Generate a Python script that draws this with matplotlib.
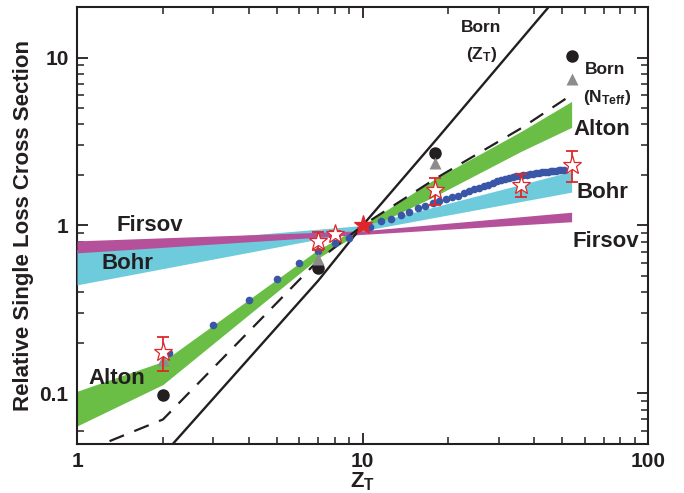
import numpy as np
import matplotlib.pyplot as plt

plt.rcParams['font.family'] = ['Liberation Sans', 'DejaVu Sans']
plt.rcParams['font.weight'] = 'bold'
plt.rcParams['mathtext.fontset'] = 'custom'
plt.rcParams['mathtext.rm'] = 'Liberation Sans:bold'
plt.rcParams['mathtext.bf'] = 'Liberation Sans:bold'
plt.rcParams['mathtext.default'] = 'bf'

# target Z_T
zt = [2, 7, 10, 18, 36, 54]

# Born (Z_T) solid line
born_z = [2, 7, 10, 18, 54]
born_y = [0.043, 0.47, 1.0, 3.2, 29.0]

# Born (N_Teff) dashed line
nteff_z = [1.3, 2, 7, 10, 18, 36, 54]
nteff_y = [0.052, 0.070, 0.62, 1.0, 1.9, 3.8, 6.0]

# Alton band
alton_z = [1, 2, 7, 10, 18, 36, 54]
alton_hi = [0.103, 0.155, 0.72, 1.0, 1.9, 3.64, 5.48]
alton_lo = [0.064, 0.113, 0.64, 0.93, 1.5, 2.77, 3.84]

# Bohr band
bohr_z = [1, 10, 54]
bohr_hi = [0.72, 1.0, 2.1]
bohr_lo = [0.443, 0.93, 1.58]

# Firsov band
firsov_z = [1, 10, 54]
firsov_hi = [0.81, 0.93, 1.2]
firsov_lo = [0.687, 0.885, 1.053]

# blue model points
dots_z = [2.1, 3, 4, 5, 6, 7, 8, 9,
          10.6, 11.6, 12.6, 13.6, 14.6, 15.6, 16.6, 17.6, 18.6, 19.6,
          20.6, 21.6, 22.6, 23.6, 24.6, 25.6, 26.6, 27.6, 28.6, 29.6,
          30.6, 31.6, 32.6, 33.6, 34.6, 35.6, 36.6, 37.6, 38.6, 39.6,
          40.6, 41.6, 42.6, 43.6, 44.6, 45.6, 46.6, 47.6, 48.6, 49.6, 50.6]
dots_y = [0.173, 0.254, 0.361, 0.481, 0.597, 0.703, 0.79, 0.847,
          0.98, 1.06, 1.10, 1.15, 1.21, 1.27, 1.31, 1.36, 1.39, 1.43,
          1.47, 1.50, 1.56, 1.60, 1.64, 1.67, 1.71, 1.75, 1.80, 1.83,
          1.86, 1.88, 1.91, 1.94, 1.96, 1.97, 1.99, 2.00, 2.02, 2.03,
          2.05, 2.06, 2.07, 2.08, 2.09, 2.10, 2.11, 2.12, 2.13, 2.14, 2.15]

# experiment (stars)
exp_z = [2, 7, 8, 10, 18, 36, 54]
exp_y = [0.177, 0.81, 0.89, 1.0, 1.63, 1.74, 2.29]
exp_up = [0.218, 0.91, 0.93, 1.03, 1.905, 2.02, 2.76]
exp_dn = [0.136, 0.71, 0.85, 0.97, 1.32, 1.47, 1.82]

# Born points
born_pts_z = [2, 7, 18, 54]
born_circ = [0.098, 0.557, 2.69, 10.27]
born_tri = [0.158, 0.633, 2.35, 7.42]

txt = '#231f20'
fig = plt.figure(figsize=(6.84, 4.93), dpi=100)
ax = fig.add_axes([0.1126, 0.0994, 0.8348, 0.8864])
ax.set_xscale('log')
ax.set_yscale('log')

ax.fill_between(alton_z, alton_lo, alton_hi, color='#6abd45', lw=0, zorder=2)
ax.fill_between(bohr_z, bohr_lo, bohr_hi, color='#6dcbdc', lw=0, zorder=3)
ax.fill_between(firsov_z, firsov_lo, firsov_hi, color='#b5519b', lw=0, zorder=4)

ax.plot(born_z, born_y, color=txt, lw=1.7, zorder=5)
ax.plot(nteff_z, nteff_y, color=txt, lw=1.6, ls=(0, (7, 5)), zorder=5)

ax.plot(dots_z, dots_y, 'o', color='#3a57a7', ms=5.5, mec='none', zorder=6)

ax.plot(born_pts_z, born_circ, 'o', color=txt, ms=8, zorder=7)
ax.plot(born_pts_z, born_tri, '^', color='#8c8c8c', ms=8, mec='none', zorder=7)

ey = np.array(exp_y)
yerr = [ey - np.array(exp_dn), np.array(exp_up) - ey]
ax.errorbar(exp_z, exp_y, yerr=yerr, fmt='none', ecolor='#e0262a',
            elinewidth=1.3, capsize=4, capthick=1.3, zorder=8)
faces = ['white'] * len(exp_z)
faces[3] = '#e0262a'
for z, y, f in zip(exp_z, exp_y, faces):
    ax.plot([z], [y], '*', ms=14, mfc=f, mec='#e0262a', mew=0.9, zorder=9)

ax.set_xlim(1, 100)
ax.set_ylim(0.05, 20)
ax.set_xticks([1, 10, 100])
ax.set_xticklabels(['1', '10', '100'], fontweight='bold')
ax.set_yticks([0.1, 1, 10])
ax.set_yticklabels(['0.1', '1', '10'], fontweight='bold')
ax.tick_params(which='both', direction='in', top=True, right=True,
               labelsize=15, colors=txt, pad=6)
ax.tick_params(which='major', length=8, width=1.3)
ax.tick_params(which='minor', length=5, width=1.1)
for s in ax.spines.values():
    s.set_linewidth(1.5)
    s.set_color(txt)

ax.set_xlabel('Z$_\\mathbf{T}$', fontsize=16, fontweight='bold', color=txt, labelpad=-1)
ax.set_ylabel('Relative Single Loss Cross Section', fontsize=16,
              fontweight='bold', color=txt, labelpad=4)

big = dict(fontsize=16, fontweight='bold', color=txt)
small = dict(fontsize=12.5, fontweight='bold', color=txt)
ax.text(26.1, 15.1, 'Born', ha='center', va='center', **small)
ax.text(26.1, 10.4, '(Z$_\\mathbf{T}$)', ha='center', va='center', **small)
ax.text(71, 8.5, 'Born', ha='center', va='center', **small)
ax.text(72, 5.8, '(N$_\\mathbf{Teff}$)', ha='center', va='center', **small)
ax.text(69, 3.73, 'Alton', ha='center', va='center', **big)
ax.text(69, 1.58, 'Bohr', ha='center', va='center', **big)
ax.text(71, 0.80, 'Firsov', ha='center', va='center', **big)
ax.text(1.80, 1.0, 'Firsov', ha='center', va='center', **big)
ax.text(1.50, 0.59, 'Bohr', ha='center', va='center', **big)
ax.text(1.38, 0.123, 'Alton', ha='center', va='center', **big)

fig.savefig('out.png', dpi=100)
